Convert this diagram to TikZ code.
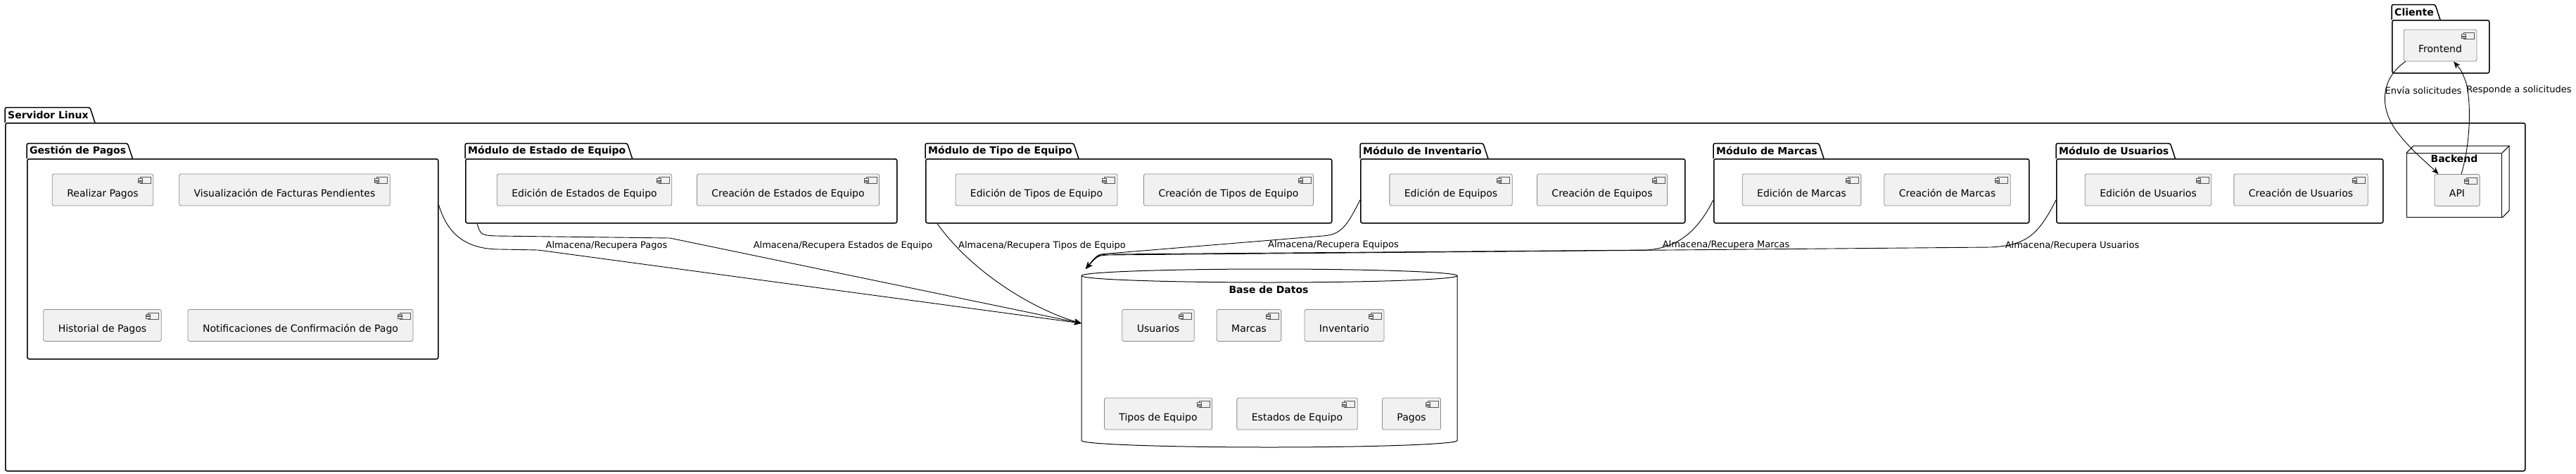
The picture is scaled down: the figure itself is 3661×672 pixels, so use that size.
\documentclass[tikz,border=0pt]{standalone}
\usepackage{fontspec}
\setmainfont{DejaVu Sans}
\usepackage{tikz}
\usetikzlibrary{calc, positioning, arrows.meta}
\definecolor{compfill}{HTML}{F1F1F1}
\definecolor{compline}{HTML}{8A8A8A}
\definecolor{iconline}{HTML}{555555}

\tikzset{
	comp/.style={draw=compline, fill=compfill, rounded corners=2.5pt, line width=0.8pt, minimum height=45pt, inner xsep=21pt, inner ysep=0pt, text height=19pt, text depth=0pt, font=\fontsize{14}{16}\selectfont},
	pkg/.style={draw, line width=1.5pt, rounded corners=2.5pt, inner sep=0pt, anchor=north west},
	pkgtab/.style={font=\bfseries\fontsize{14}{16}\selectfont, inner xsep=4pt, inner ysep=0pt, minimum height=21pt, anchor=south west},
	conn/.style={line width=0.9pt, -{Stealth[length=10pt, width=8pt, inset=3pt]}},
	lbl/.style={font=\fontsize{13}{15}\selectfont, inner sep=1pt}
}

\begin{document}
\begin{tikzpicture}[x=1pt, y=-1pt]
	\useasboundingbox (0,0) rectangle (3661,672);
	
	\node [pkg, minimum width=3581pt, minimum height=494pt] (srv) at (7,174) {};
	\node [pkg, minimum width=584pt, minimum height=284pt] (pagos) at (38,225) {};
	\node [pkg, minimum width=613pt, minimum height=91pt] (estado) at (661,225) {};
	\node [pkg, minimum width=577pt, minimum height=91pt] (tipos) at (1315,225) {};
	\node [pkg, minimum width=461pt, minimum height=91pt] (inv) at (1933,225) {};
	\node [pkg, minimum width=448pt, minimum height=91pt] (marcas) at (2435,225) {};
	\node [pkg, minimum width=464pt, minimum height=91pt] (usu) at (2922,225) {};
	\node [pkg, minimum width=138pt, minimum height=75pt] (cli) at (3399,28) {};
	
	\foreach \p/\t in {srv/Servidor Linux, pagos/Gestión de Pagos, estado/Módulo de Estado de Equipo, tipos/Módulo de Tipo de Equipo, inv/Módulo de Inventario, marcas/Módulo de Marcas, usu/Módulo de Usuarios, cli/Cliente} {
		\node [pkgtab] (\p-tab) at (\p.north west) {\t};
		\draw [line width=1.5pt, rounded corners=2.5pt] (\p.north west) |- ([xshift=-2pt]\p-tab.north east) -- ([xshift=5pt]\p-tab.south east);
	}
	
	\node [comp] (rp) at (146,269.5) {Realizar Pagos};
	\node [comp] (vf) at (404.5,269.5) {Visualización de Facturas Pendientes};
	\node [comp] (hp) at (145.5,462) {Historial de Pagos};
	\node [comp] (nc) at (427,462) {Notificaciones de Confirmación de Pago};
	\node [comp] (ee) at (830.5,269.5) {Edición de Estados de Equipo};
	\node [comp] (ce) at (1120,269.5) {Creación de Estados de Equipo};
	\node [comp] (et) at (1473,269.5) {Edición de Tipos de Equipo};
	\node [comp] (ct) at (1746,269.5) {Creación de Tipos de Equipo};
	\node [comp] (eq) at (2062,269.5) {Edición de Equipos};
	\node [comp] (cq) at (2277,269.5) {Creación de Equipos};
	\node [comp] (em) at (2560.5,269.5) {Edición de Marcas};
	\node [comp] (cm) at (2767.5,269.5) {Creación de Marcas};
	\node [comp] (eu) at (3053,269.5) {Edición de Usuarios};
	\node [comp] (cu) at (3270,269.5) {Creación de Usuarios};
	\node [comp] (fe) at (3468,64.5) {Frontend};
	
	\node [draw, line width=1pt, inner sep=0pt, minimum width=135pt, minimum height=91pt, anchor=north west] (be) at (3420,217) {};
	\draw [line width=1pt] (be.north west) -- ++(10,-10) -| ([shift={(10pt,10pt)}]be.south east) -- (be.south east);
	\draw [line width=1pt] (be.north east) -- ++(10,-10);
	\node [below=3pt of be.north, inner sep=0pt, font=\bfseries\fontsize{14}{16}\selectfont] (be-tab) {Backend};
	\node [comp] (api) at (3492,270) {API};
	
	\node [inner sep=0pt, minimum width=534pt, minimum height=253pt] (db) at (1804,508.5) {};
	\draw [line width=1pt] (1537,391.5) -- (1537,625.5) arc [start angle=180, end angle=360, x radius=267pt, y radius=9.5pt] -- (2071,391.5) arc [start angle=0, end angle=180, x radius=267pt, y radius=9.5pt] -- cycle;
	\draw [line width=1pt] (1537,391.5) arc [start angle=180, end angle=360, x radius=267pt, y radius=9.5pt];
	\node [font=\bfseries\fontsize{14}{16}\selectfont] (db-tab) at (1803,411) {Base de Datos};
	\node [comp] (du) at (1646,462) {Usuarios};
	\node [comp] (dm) at (1775,462) {Marcas};
	\node [comp] (di) at (1910.5,462) {Inventario};
	\node [comp] (dt) at (1646,587.5) {Tipos de Equipo};
	\node [comp] (de) at (1843.5,587.5) {Estados de Equipo};
	\node [comp] (dp) at (2006,587.5) {Pagos};
	
	\foreach \c in {rp, vf, hp, nc, ee, ce, et, ct, eq, cq, em, cm, eu, cu, fe, api, du, dm, di, dt, de, dp} {
		\draw [iconline, line width=0.7pt, fill=compfill] ($(\c.north east)+(-19,5)$) rectangle ++(15,9);
		\draw [iconline, line width=0.7pt, fill=compfill] ($(\c.north east)+(-22,7)$) rectangle ++(6,2.5);
		\draw [iconline, line width=0.7pt, fill=compfill] ($(\c.north east)+(-22,10.5)$) rectangle ++(6,2.5);
	}
	
	\draw [conn] ([yshift=77pt]pagos.east) .. controls +(12,40) and (660,354) .. (711,354) -- (765,355) -- ([yshift=49.5pt]db.west);
	\draw [conn] ([xshift=17pt]estado.south west) .. controls +(5,16) and (684,334) .. (705,335) -- (952,338) -- ([yshift=49.5pt]db.west);
	\draw [conn] ([xshift=17pt]tipos.south west) .. controls +(50,70) and (1470,440) .. ([yshift=49.5pt]db.west);
	\draw [conn] ([yshift=-12.5pt]inv.west) .. controls +(-20,40) and (1905,333) .. (1880,335) -- (1575,360) .. controls (1560,361) .. ([xshift=6pt]db.north west);
	\draw [conn] ([yshift=-12.5pt]marcas.west) .. controls +(-25,50) and (2380,352) .. (2340,355) -- (1575,361) .. controls (1560,362) .. ([xshift=6pt]db.north west);
	\draw [conn] ([yshift=-12.5pt]usu.west) .. controls +(-25,50) and (2880,348) .. (2830,351) -- (1575,362) .. controls (1560,363) .. ([xshift=6pt]db.north west);
	
	\node [lbl] (l-pagos) at (862,349) {Almacena/Recupera Pagos};
	\node [lbl] (l-estado) at (1198,349) {Almacena/Recupera Estados de Equipo};
	\node [lbl] (l-tipos) at (1481,349) {Almacena/Recupera Tipos de Equipo};
	\node [lbl] (l-inv) at (1895,348) {Almacena/Recupera Equipos};
	\node [lbl] (l-marcas) at (2453,348) {Almacena/Recupera Marcas};
	\node [lbl] (l-usu) at (2945,349) {Almacena/Recupera Usuarios};
	
	\draw [conn] ([xshift=3pt]fe.south west) .. controls (3385,110) and (3380,150) .. (3405,185) .. controls (3425,212) and (3450,232) .. ([xshift=6pt]api.north west);
	\draw [conn] ([xshift=6pt]api.north) .. controls (3512,200) and (3512,140) .. (3504,115) .. controls (3498,100) .. ([xshift=19pt]fe.south);
	\node [lbl] (l-env) at (3444,128) {Envía solicitudes};
	\node [lbl] (l-res) at (3580,128) {Responde a solicitudes};
	
\end{tikzpicture}
\end{document}
